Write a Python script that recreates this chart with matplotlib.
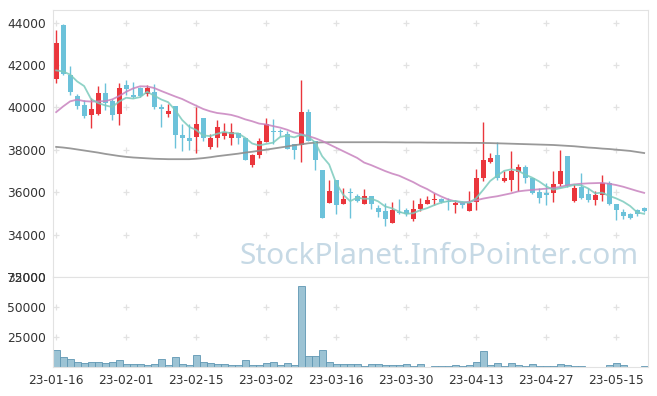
import matplotlib
matplotlib.use("Agg")
import matplotlib.pyplot as plt
import numpy as np

# daily candles, 2023-01-16 .. 2023-05-19 (trading days)
date_labels = ["23-01-16", "23-02-01", "23-02-15", "23-03-02", "23-03-16",
               "23-03-30", "23-04-13", "23-04-27", "23-05-15"]

opens = [41350, 43900, 41550, 40550, 40100, 39650, 39700, 40700, 40300, 39700,
         41050, 40600, 40900, 40650, 40750, 40000, 39700, 40050, 38700, 38550,
         38600, 39500, 38150, 38550, 38650, 38550, 38800, 38550, 37300, 37750,
         38350, 38900, 38900, 38750, 38300, 38250, 39800, 38400, 37050, 35500,
         36600, 35450, 36000, 35800, 35450, 35800, 35250, 35100, 34550, 35050,
         35150, 34750, 35200, 35450, 35650, 35700, 35600, 35400, 35550, 35100,
         35550, 36650, 37450, 37750, 36550, 36600, 36950, 37200, 36650, 36000,
         35950, 35950, 36400, 37700, 35600, 36250, 35900, 35650, 35850, 36450,
         35450, 35050, 34950, 35150, 35250]
highs = [43650, 43950, 41950, 40650, 40350, 40450, 41000, 41150, 40400, 41150,
         41300, 41200, 40950, 41050, 41100, 40150, 40150, 40050, 39200, 39200,
         40000, 39500, 38750, 39400, 39250, 39250, 38800, 38550, 37800, 38550,
         39500, 39450, 39000, 38900, 38300, 41300, 39950, 38400, 37050, 36600,
         36600, 36200, 36200, 35900, 36150, 35800, 35400, 35500, 35550, 35700,
         35250, 35650, 35750, 35800, 35950, 35750, 35750, 35650, 35600, 36050,
         37100, 39300, 37850, 38350, 37000, 37950, 37350, 37300, 36650, 36200,
         36450, 37000, 38000, 37700, 36400, 36900, 36200, 36050, 36800, 36550,
         35450, 35200, 35000, 35200, 35300]
lows = [41150, 41550, 40600, 39950, 39500, 39050, 39650, 39900, 39400, 39150,
        40600, 40450, 40500, 40550, 39950, 39100, 39550, 38100, 37950, 38000,
        37850, 38400, 38050, 38150, 38500, 38250, 38300, 37500, 37200, 37600,
        38350, 38300, 38650, 38050, 37550, 37450, 38400, 37050, 34800, 35500,
        34950, 35450, 34800, 35550, 35450, 35200, 34850, 34400, 34550, 34950,
        34900, 34650, 35100, 35450, 35400, 35500, 35150, 35000, 35250, 35100,
        35150, 36550, 37400, 36600, 36500, 36050, 36050, 36450, 35900, 35500,
        35400, 35550, 36300, 36250, 35550, 35700, 35550, 35400, 35600, 35400,
        34700, 34750, 34750, 34900, 35050]
closes = [43050, 41600, 40750, 40050, 39600, 39950, 40700, 40200, 39650, 40900,
          40850, 40500, 40550, 40900, 40000, 39950, 39850, 38700, 38550, 38400,
          39200, 38550, 38550, 39100, 38850, 38850, 38550, 37500, 37750, 38400,
          39200, 38850, 38850, 38050, 38000, 39800, 38400, 37500, 34800, 36050,
          35400, 35700, 35950, 35600, 35800, 35450, 35050, 34750, 35150, 35000,
          34950, 35200, 35450, 35650, 35700, 35550, 35550, 35500, 35400, 35500,
          36650, 37500, 37600, 36650, 36650, 37000, 37200, 36650, 35950, 35750,
          35850, 36400, 37000, 36300, 36200, 35750, 35650, 35850, 36450, 35450,
          35150, 34900, 34800, 34950, 35100]
volume = [14400, 8600, 6900, 4400, 3300, 4400, 4400, 3600, 4400, 6100,
          2500, 2500, 2500, 1700, 2500, 6900, 1700, 8600, 2500, 1700,
          10000, 4400, 3600, 2800, 2500, 1700, 1700, 6100, 1700, 1700,
          3600, 4400, 1700, 3300, 1700, 67800, 9200, 9200, 14400, 4400,
          2500, 2500, 2500, 2500, 600, 2500, 2500, 1700, 1700, 1700,
          2500, 600, 2500, 0, 800, 800, 800, 1700, 800, 1700,
          4200, 13300, 1700, 3300, 800, 3300, 1700, 800, 2500, 800,
          800, 800, 2500, 1700, 800, 800, 0, 0, 0, 1700,
          3300, 1700, 0, 0, 800]

# moving averages as shown on the chart
ma5 = [41750, 41700, 41550, 41230, 41010, 40390, 40210, 40100, 40020, 40280,
       40460, 40420, 40490, 40740, 40560, 40380, 40250, 39880, 39410, 39090,
       38940, 38680, 38650, 38760, 38850, 38780, 38780, 38570, 38300, 38210,
       38280, 38340, 38610, 38670, 38590, 38710, 38620, 38350, 37700, 37310,
       36430, 35890, 35580, 35740, 35690, 35700, 35570, 35330, 35240, 35080,
       34980, 35010, 35150, 35250, 35390, 35510, 35580, 35590, 35540, 35500,
       35720, 36110, 36530, 36780, 37010, 37080, 37020, 36830, 36690, 36510,
       36280, 36120, 36190, 36260, 36350, 36330, 36180, 35950, 35980, 35830,
       35710, 35560, 35350, 35050, 34980]
ma20 = [39780, 40050, 40290, 40370, 40300, 40280, 40290, 40300, 40380, 40540,
        40740, 40900, 41000, 40990, 40920, 40780, 40650, 40520, 40400, 40240,
        40085, 39930, 39820, 39740, 39700, 39650, 39560, 39440, 39350, 39240,
        39200, 39120, 39050, 38950, 38820, 38740, 38650, 38550, 38420, 38260,
        38100, 37940, 37780, 37620, 37400, 37280, 37140, 37000, 36880, 36780,
        36630, 36480, 36300, 36150, 35960, 35800, 35660, 35570, 35510, 35550,
        35620, 35700, 35760, 35810, 35880, 35950, 36040, 36080, 36110, 36140,
        36170, 36200, 36250, 36330, 36370, 36400, 36420, 36430, 36440, 36400,
        36340, 36260, 36160, 36060, 35970]
ma60 = [38140, 38110, 38070, 38020, 37970, 37920, 37870, 37810, 37760, 37710,
        37670, 37640, 37620, 37600, 37580, 37570, 37560, 37560, 37560, 37560,
        37580, 37610, 37650, 37700, 37740, 37780, 37820, 37870, 37910, 37960,
        38010, 38060, 38110, 38160, 38220, 38260, 38310, 38340, 38355, 38360,
        38360, 38360, 38360, 38360, 38360, 38360, 38360, 38360, 38355, 38355,
        38350, 38350, 38350, 38345, 38345, 38340, 38340, 38335, 38335, 38330,
        38330, 38325, 38320, 38310, 38300, 38290, 38280, 38270, 38260, 38250,
        38240, 38230, 38210, 38190, 38170, 38140, 38110, 38090, 38060, 38040,
        38010, 37980, 37950, 37900, 37850]

RED = "#ea363c"
BLUE = "#6cc2da"
GRID = "#e2e2e2"
TXT = "#333333"
plt.rcParams["font.family"] = ["DejaVu Sans"]

o = np.array(opens)
c = np.array(closes)
idx = np.arange(len(c))
cols = np.where(c > o, RED, BLUE)

fig = plt.figure(figsize=(6.57, 3.96), dpi=100)
ax = fig.add_axes([53 / 657, 1 - 277 / 396, 595 / 657, 267 / 396])
axv = fig.add_axes([53 / 657, 1 - 367 / 396, 595 / 657, 90 / 396], sharex=ax)

# candles
ax.vlines(idx, lows, highs, colors=cols, lw=1.0, zorder=2)
ax.bar(idx, np.maximum(np.abs(c - o), 40), bottom=np.minimum(o, c),
       width=0.68, color=cols, lw=0, zorder=2)

# moving averages
ax.plot(idx, ma60, color="#8e8e8e", lw=1.3, alpha=0.9, zorder=3)
ax.plot(idx, ma20, color="#c883bf", lw=1.3, alpha=0.85, zorder=3)
ax.plot(idx, ma5, color="#7ccbbd", lw=1.3, alpha=0.85, zorder=3)

xt = list(range(0, len(c), 10))
ax.set_xlim(-0.45, 84.55)
ax.set_ylim(32000, 44600)
yt = list(range(32000, 44001, 2000))
ax.set_yticks(yt)
ax.set_yticklabels([str(v) for v in yt])

# little + marks on the grid
gx, gy = np.meshgrid(xt, yt[1:])
ax.plot(gx.ravel(), gy.ravel(), "+", color=GRID, ms=4, mew=0.9, zorder=1)

ax.text(0.984, 0.078, "StockPlanet.InfoPointer.com", family="Noto Sans",
        transform=ax.transAxes, ha="right", va="center", fontsize=21.5,
        color="#c6d9e5", zorder=0)

# volume
axv.bar(idx, volume, width=1.0, color="#9cc3d4", edgecolor="#5f97b3", lw=0.6, zorder=2)
axv.set_ylim(0, 75000)
vt = [25000, 50000, 75000]
axv.set_yticks(vt)
axv.set_yticklabels([str(v) for v in vt])
axv.set_xticks(xt)
axv.set_xticklabels(date_labels)
vx, vy = np.meshgrid(xt, vt[:2])
axv.plot(vx.ravel(), vy.ravel(), "+", color=GRID, ms=4, mew=0.9, zorder=1)

for a in (ax, axv):
    for s in a.spines.values():
        s.set_color(GRID)
    a.tick_params(axis="both", length=0, labelsize=8.8, labelcolor=TXT, pad=5)
ax.tick_params(axis="x", labelbottom=False)

fig.savefig("out.png", dpi=100)
